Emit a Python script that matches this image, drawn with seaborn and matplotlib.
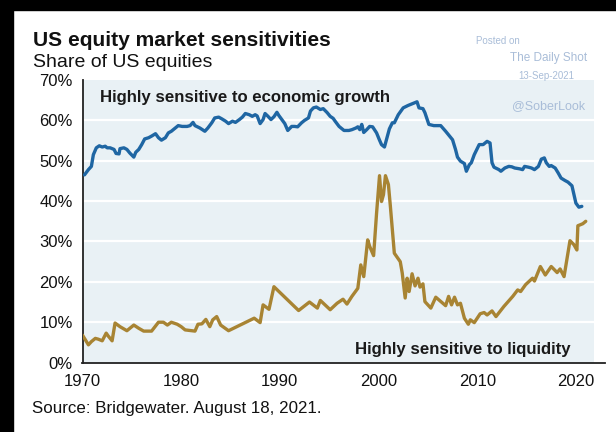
import matplotlib
matplotlib.use("Agg")
import matplotlib.pyplot as plt
import seaborn as sns
import pandas as pd
from matplotlib.patches import Rectangle

growth_years = [1970.2, 1970.6, 1970.9, 1971.1, 1971.4, 1971.7, 1972.0, 1972.3, 1972.5, 1972.8,
                1973.2, 1973.4, 1973.7, 1973.8, 1974.2, 1974.5, 1974.8, 1975.2, 1975.4, 1975.7,
                1976.0, 1976.3, 1976.7, 1977.0, 1977.4, 1977.7, 1978.0, 1978.4, 1978.7, 1979.0,
                1979.4, 1979.7, 1980.1, 1980.6, 1980.9, 1981.2, 1981.4, 1981.9, 1982.4, 1982.7,
                1983.1, 1983.4, 1983.8, 1984.1, 1984.5, 1984.8, 1985.2, 1985.5, 1985.9, 1986.2,
                1986.5, 1986.9, 1987.2, 1987.5, 1987.7, 1988.0, 1988.3, 1988.5, 1988.8, 1989.1,
                1989.4, 1989.7, 1989.9, 1990.2, 1990.5, 1990.8, 1991.2, 1991.5, 1991.8, 1992.2,
                1992.5, 1992.9, 1993.1, 1993.4, 1993.7, 1994.1, 1994.4, 1994.8, 1995.1, 1995.4,
                1995.6, 1996.0, 1996.5, 1997.0, 1997.3, 1997.7, 1997.9, 1998.1, 1998.3, 1998.5,
                1998.8, 1999.1, 1999.4, 1999.8, 2000.1, 2000.3, 2000.6, 2000.8, 2001.1, 2001.4,
                2001.6, 2002.0, 2002.5, 2003.0, 2003.4, 2003.9, 2004.1, 2004.5, 2004.7, 2005.1,
                2005.6, 2006.3, 2006.8, 2007.2, 2007.5, 2007.8, 2008.0, 2008.3, 2008.7, 2008.9,
                2009.2, 2009.4, 2009.7, 2010.2, 2010.6, 2011.0, 2011.3, 2011.5, 2011.7, 2012.2,
                2012.4, 2012.8, 2013.2, 2013.5, 2013.8, 2014.3, 2014.6, 2014.8, 2015.2, 2015.5,
                2015.8, 2016.2, 2016.5, 2016.8, 2017.0, 2017.3, 2017.5, 2017.9, 2018.2, 2018.5,
                2018.9, 2019.2, 2019.6, 2019.8, 2020.0, 2020.3, 2020.6]
growth_share = [46.5, 47.8, 48.6, 51.5, 53.2, 53.7, 53.4, 53.6, 53.2, 53.2,
                52.8, 51.8, 51.7, 53.0, 53.2, 52.8, 51.9, 50.9, 52.1, 52.8,
                54.0, 55.4, 55.7, 56.1, 56.7, 55.7, 55.1, 55.7, 56.9, 57.3,
                58.1, 58.7, 58.5, 58.5, 58.7, 59.5, 58.7, 58.1, 57.3, 58.1,
                59.4, 60.6, 60.8, 60.4, 59.8, 59.2, 59.8, 59.5, 60.2, 60.8,
                61.7, 61.4, 61.0, 61.4, 61.1, 59.2, 60.2, 61.7, 61.0, 60.2,
                60.9, 62.0, 61.2, 60.2, 59.2, 57.5, 58.5, 58.5, 58.4, 59.4,
                60.0, 60.6, 62.3, 63.1, 63.3, 62.7, 62.9, 61.9, 61.0, 60.5,
                59.8, 58.5, 57.5, 57.5, 57.7, 58.1, 58.4, 57.7, 59.0, 57.0,
                57.7, 58.5, 58.4, 56.9, 55.1, 54.0, 53.4, 55.2, 57.9, 59.4,
                59.4, 61.4, 63.1, 63.7, 64.1, 64.6, 63.1, 62.9, 61.9, 59.0,
                58.7, 58.7, 57.3, 56.1, 55.2, 52.8, 50.9, 49.9, 49.3, 47.4,
                49.0, 49.5, 51.5, 54.0, 54.0, 54.8, 54.4, 49.5, 48.4, 47.8,
                47.4, 48.2, 48.6, 48.5, 48.2, 48.0, 47.8, 48.6, 48.4, 48.2,
                47.8, 48.6, 50.4, 50.7, 49.5, 48.6, 48.8, 48.2, 47.0, 45.7,
                45.1, 44.7, 43.8, 41.6, 39.5, 38.5, 38.7]

liquidity_years = [1970.0, 1970.3, 1970.6, 1970.9, 1971.3, 1971.6, 1972.0, 1972.4, 1972.6, 1973.0,
                   1973.3, 1973.8, 1974.5, 1975.2, 1975.7, 1976.2, 1977.0, 1977.7, 1978.2, 1978.6,
                   1979.0, 1979.6, 1980.0, 1980.4, 1981.4, 1981.7, 1982.1, 1982.5, 1982.9, 1983.2,
                   1983.6, 1984.0, 1984.8, 1987.4, 1988.0, 1988.3, 1988.9, 1989.4, 1991.9, 1993.0,
                   1993.8, 1994.1, 1995.1, 1995.8, 1996.4, 1996.8, 1997.3, 1997.9, 1998.2, 1998.5,
                   1998.9, 1999.1, 1999.5, 1999.8, 2000.1, 2000.3, 2000.5, 2000.7, 2001.0, 2001.2,
                   2001.6, 2002.2, 2002.4, 2002.7, 2002.9, 2003.1, 2003.4, 2003.7, 2004.0, 2004.2,
                   2004.5, 2004.7, 2005.3, 2005.8, 2006.8, 2007.1, 2007.4, 2007.7, 2008.0, 2008.3,
                   2008.7, 2009.1, 2009.3, 2009.7, 2010.3, 2010.7, 2011.0, 2011.5, 2011.9, 2012.7,
                   2013.6, 2014.1, 2014.4, 2014.9, 2015.6, 2015.8, 2016.4, 2016.9, 2017.5, 2018.1,
                   2018.4, 2018.8, 2019.4, 2019.8, 2020.1, 2020.2, 2020.7, 2021.0]
liquidity_share = [6.8, 5.6, 4.4, 5.2, 6.0, 5.8, 5.4, 7.3, 6.6, 5.4,
                   9.8, 8.9, 7.9, 9.3, 8.5, 7.8, 7.8, 10.0, 10.0, 9.3,
                   10.0, 9.5, 8.9, 8.1, 7.8, 9.5, 9.6, 10.7, 8.9, 10.6,
                   11.4, 9.3, 7.9, 11.0, 9.9, 14.3, 13.2, 18.8, 12.9, 15.0,
                   13.5, 15.4, 13.1, 14.7, 15.7, 14.5, 16.4, 18.4, 24.2, 21.3,
                   30.4, 28.8, 26.5, 37.0, 46.3, 39.9, 41.6, 46.3, 44.1, 38.7,
                   27.1, 25.0, 22.2, 16.0, 20.9, 17.6, 22.0, 19.0, 20.9, 18.7,
                   19.5, 15.1, 13.5, 16.2, 14.1, 16.4, 14.3, 16.2, 14.3, 14.7,
                   11.0, 9.5, 10.6, 9.9, 12.1, 12.4, 11.8, 12.8, 11.4, 13.9,
                   16.4, 18.0, 17.6, 19.3, 20.9, 20.2, 23.8, 21.7, 23.8, 22.3,
                   23.2, 21.3, 30.2, 29.2, 27.9, 33.9, 34.4, 35.0]

x_ticks = [1970, 1980, 1990, 2000, 2010, 2020]
y_ticks = [0, 10, 20, 30, 40, 50, 60, 70]

sns.set_style("white")
plt.rcParams["font.family"] = ["Liberation Sans", "DejaVu Sans"]

W, H = 616, 432
fig = plt.figure(figsize=(W / 100, H / 100), dpi=100)
fig.patch.set_facecolor("white")

def fx(px):
    return px / W

def fy(py):
    return 1 - py / H

# dark frame at top and left (screenshot border)
fig.patches.append(Rectangle((0, fy(10)), 1, 10 / H, transform=fig.transFigure,
                             color="black", zorder=0))
fig.patches.append(Rectangle((0, 0), fx(13), 1, transform=fig.transFigure,
                             color="black", zorder=0))

left, right, top, bottom = 82.5, 605.5, 80.0, 362.6
ax = fig.add_axes([fx(left), fy(bottom), fx(right - left), (bottom - top) / H])
ax.set_facecolor("none")

bg = "#e9f1f5"
ax.axvspan(1970, 2021.8, color=bg, zorder=0, lw=0)

df_g = pd.DataFrame({"year": growth_years, "share": growth_share})
df_l = pd.DataFrame({"year": liquidity_years, "share": liquidity_share})
sns.lineplot(data=df_g, x="year", y="share", ax=ax, color="#1f66a3", lw=2.4, zorder=3)
sns.lineplot(data=df_l, x="year", y="share", ax=ax, color="#a88433", lw=2.4, zorder=3)

ax.set_xlim(1970, 2023)
ax.set_ylim(0, 70)
ax.set_xticks(x_ticks)
ax.set_yticks(y_ticks)
ax.set_xticklabels([str(t) for t in x_ticks])
ax.set_yticklabels([f"{t}%" for t in y_ticks])
ax.set_xlabel("")
ax.set_ylabel("")
for t in y_ticks[1:-1]:
    ax.axhline(t, xmin=0, xmax=(2021.8 - 1970) / 53, color="white", lw=1.6, zorder=1)

for s in ["top", "right"]:
    ax.spines[s].set_visible(False)
for s in ["left", "bottom"]:
    ax.spines[s].set_color("#222222")
    ax.spines[s].set_linewidth(1.3)
ax.tick_params(axis="both", direction="out", length=5, width=1.2, color="#222222",
               labelsize=12, labelcolor="#111111", pad=3)
ax.tick_params(axis="y", pad=2)

ax.text(1971.8, 65.7, "Highly sensitive to economic growth", fontsize=12.1,
        fontweight="bold", color="#1a1a1a", va="center", ha="left")
ax.text(2019.5, 3.2, "Highly sensitive to liquidity", fontsize=12.1,
        fontweight="bold", color="#1a1a1a", va="center", ha="right")

fig.text(fx(33), fy(46), "US equity market sensitivities", fontsize=15.1,
         fontweight="bold", color="#111111", va="baseline", ha="left")
fig.text(fx(33), fy(67), "Share of US equities", fontsize=14,
         color="#111111", va="baseline", ha="left")
fig.text(fx(32), fy(408), "Source: Bridgewater. August 18, 2021.", fontsize=12.2,
         color="#111111", va="center", ha="left")

wm = "#a9bdd8"
fig.text(fx(498), fy(41), "Posted on", fontsize=7, color=wm, ha="center", va="center")
fig.text(fx(549), fy(58), "The Daily Shot", fontsize=8.5, color=wm, ha="center", va="center")
fig.text(fx(546), fy(76), "13-Sep-2021", fontsize=7, color=wm, ha="center", va="center")
fig.text(fx(549), fy(106), "@SoberLook", fontsize=9, color=wm, ha="center", va="center")

fig.savefig("out.png", dpi=100)
